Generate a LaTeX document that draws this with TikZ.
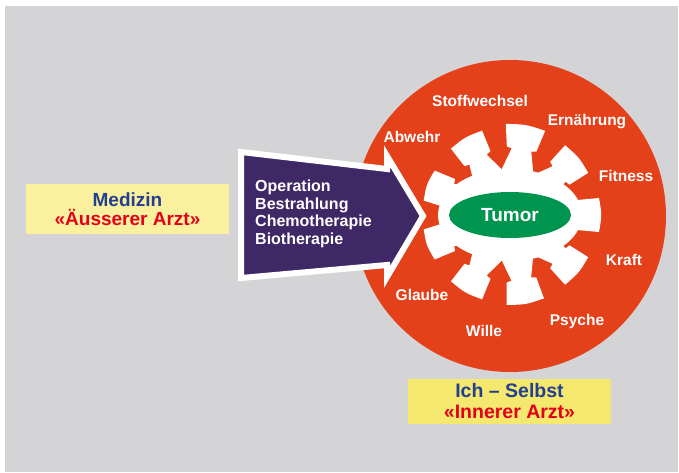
\documentclass[tikz,border=0pt]{standalone}
\usepackage{fontspec}
\setmainfont{Liberation Sans}
\usetikzlibrary{shapes.geometric}
\definecolor{bggray}{HTML}{D4D4D6}
\definecolor{ichred}{HTML}{E4401A}
\definecolor{tumorgreen}{HTML}{00954F}
\definecolor{therapypurple}{HTML}{3F2866}
\definecolor{paleyellow}{HTML}{FAF09E}
\definecolor{boxyellow}{HTML}{F5E86E}
\definecolor{textblue}{HTML}{22408F}
\definecolor{textred}{HTML}{E2001A}
\begin{document}
\begin{tikzpicture}[x=1pt,y=-1pt]
\tikzset{
  factor/.style={text=white,inner sep=0,text height=11,text depth=3,font=\bfseries\fontsize{15.5}{17}\selectfont},
  infobox/.style={fill=#1,inner sep=0,minimum width=203,align=center,font=\bfseries\fontsize{19}{19}\selectfont}
}
\useasboundingbox (0,0) rectangle (679,473);
\fill[white] (0,0) rectangle (679,473);
\fill[bggray] (5,6) rectangle (678,472);
% Ich - Selbst
\fill[ichred] (510,216) circle[radius=156];
% tumor body with teeth
\fill[white] (510,215) ellipse[x radius=72,y radius=46];
\foreach \a/\r/\w in {0/89/17,40/87/18,80/89/20,120/87/18,160/86/16,200/86/16,240/87/18,280/88/19,320/87/18} {
  \begin{scope}[shift={(510,215)},rotate=\a]
    \fill[white] (0,-28) -- (\r-23,-10) -- (\r-22,-15) -- (\r,-\w) .. controls (\r+3,0) .. (\r,\w) -- (\r-22,15) -- (\r-23,10) -- (0,28) -- cycle;
  \end{scope}
}
\node[ellipse,fill=tumorgreen,minimum width=122,minimum height=46,inner sep=0,text=white,font=\bfseries\fontsize{19}{22}\selectfont] (tumor) at (510,215) {Tumor};
% Medizin arrow
\filldraw[fill=therapypurple,draw=white,line width=6,line join=miter] (241,152) -- (387,169) -- (387,156) -- (423,216) -- (387,277) -- (387,265) -- (241,278) -- cycle;
\node[anchor=west,align=left,inner sep=0,text=white,font=\bfseries\fontsize{16}{17.5}\selectfont] (therapie) at (255,214) {Operation\\Bestrahlung\\Chemotherapie\\Biotherapie};
% factors
\node[factor] (stoffwechsel) at (480,103) {Stoffwechsel};
\node[factor] (ernaehrung) at (587,122) {Ernährung};
\node[factor] (abwehr) at (412,139) {Abwehr};
\node[factor] (fitness) at (626,177) {Fitness};
\node[factor] (kraft) at (624,261) {Kraft};
\node[factor] (psyche) at (577,321) {Psyche};
\node[factor] (wille) at (484,332) {Wille};
\node[factor] (glaube) at (422,296) {Glaube};
% labels
\node[infobox=paleyellow,minimum height=50] (medizin) at (127.5,209) {\textcolor{textblue}{Medizin}\\\textcolor{textred}{«Äusserer Arzt»}};
\node[infobox=boxyellow,minimum height=45,font=\bfseries\fontsize{19.5}{21}\selectfont] (selbst) at (509.5,401.5) {\textcolor{textblue}{Ich – Selbst}\\\textcolor{textred}{«Innerer Arzt»}};
\end{tikzpicture}
\end{document}
